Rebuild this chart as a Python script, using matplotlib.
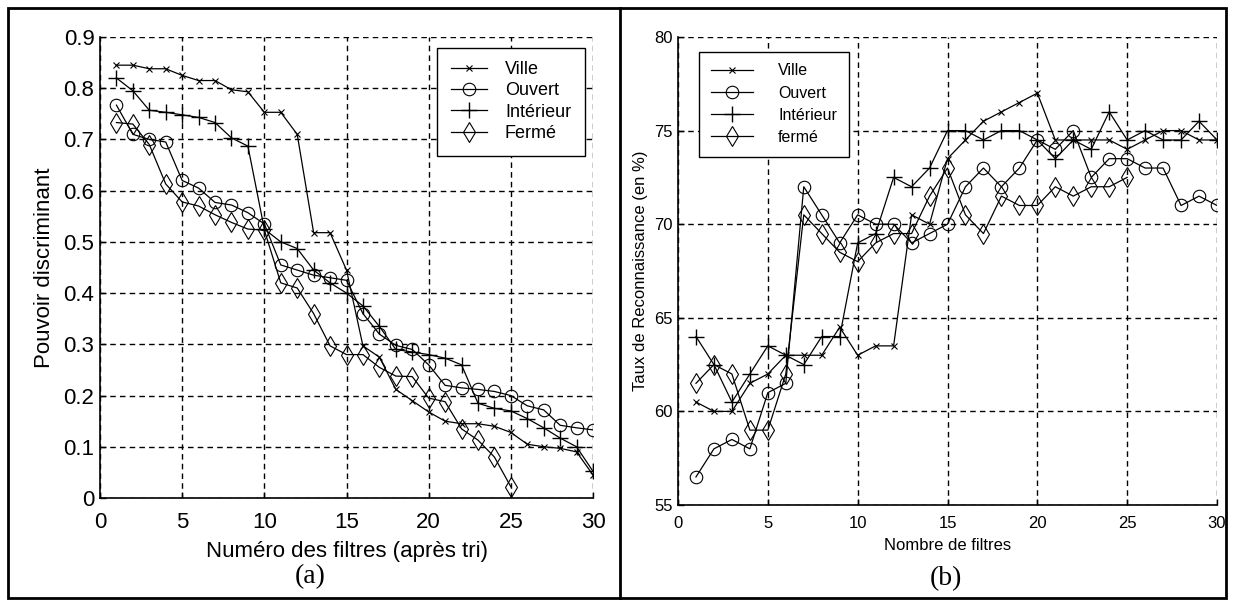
import matplotlib
matplotlib.use("Agg")
import matplotlib.pyplot as plt
from matplotlib.patches import Rectangle
from matplotlib.lines import Line2D

# ---- data: (a) discriminant power per sorted filter
x_a = list(range(1, 31))
ville_a = [0.845, 0.845, 0.838, 0.838, 0.825, 0.815, 0.815, 0.797, 0.793, 0.753,
           0.753, 0.71, 0.518, 0.518, 0.445, 0.297, 0.275, 0.212, 0.19, 0.168,
           0.15, 0.145, 0.145, 0.14, 0.128, 0.105, 0.10, 0.097, 0.09, 0.045]
ouvert_a = [0.767, 0.71, 0.70, 0.695, 0.62, 0.605, 0.577, 0.572, 0.557, 0.535,
            0.455, 0.445, 0.435, 0.43, 0.425, 0.36, 0.32, 0.298, 0.29, 0.26,
            0.22, 0.215, 0.212, 0.208, 0.20, 0.18, 0.172, 0.142, 0.137, 0.133]
interieur_a = [0.82, 0.795, 0.757, 0.753, 0.748, 0.743, 0.733, 0.703, 0.687, 0.525,
               0.50, 0.487, 0.445, 0.42, 0.40, 0.375, 0.335, 0.29, 0.285, 0.28,
               0.273, 0.26, 0.185, 0.175, 0.17, 0.155, 0.137, 0.117, 0.10, 0.052]
ferme_a = [0.733, 0.73, 0.69, 0.613, 0.578, 0.57, 0.553, 0.538, 0.525, 0.523,
           0.42, 0.41, 0.36, 0.297, 0.28, 0.28, 0.255, 0.238, 0.237, 0.195,
           0.188, 0.135, 0.113, 0.08, 0.022]
yticks_a = [0, 0.1, 0.2, 0.3, 0.4, 0.5, 0.6, 0.7, 0.8, 0.9]
ylabels_a = ["0", "0.1", "0.2", "0.3", "0.4", "0.5", "0.6", "0.7", "0.8", "0.9"]
labels_a = ["Ville", "Ouvert", "Intérieur", "Fermé"]

# ---- data: (b) recognition rate vs number of filters
x_b = list(range(1, 31))
ville_b = [60.5, 60.0, 60.0, 61.5, 62.0, 63.0, 63.0, 63.0, 64.5, 63.0,
           63.5, 63.5, 70.5, 70.0, 73.5, 74.5, 75.5, 76.0, 76.5, 77.0,
           74.5, 74.5, 74.5, 74.5, 74.0, 74.5, 75.0, 75.0, 74.5, 74.5]
ouvert_b = [56.5, 58.0, 58.5, 58.0, 61.0, 61.5, 72.0, 70.5, 69.0, 70.5,
            70.0, 70.0, 69.0, 69.5, 70.0, 72.0, 73.0, 72.0, 73.0, 74.5,
            74.0, 75.0, 72.5, 73.5, 73.5, 73.0, 73.0, 71.0, 71.5, 71.0]
interieur_b = [64.0, 62.5, 60.5, 62.0, 63.5, 63.0, 62.5, 64.0, 64.0, 69.0,
               69.5, 72.5, 72.0, 73.0, 75.0, 75.0, 74.5, 75.0, 75.0, 74.5,
               73.5, 74.5, 74.0, 76.0, 74.5, 75.0, 74.5, 74.5, 75.5, 74.5]
ferme_b = [61.5, 62.5, 62.0, 59.0, 59.0, 62.0, 70.5, 69.5, 68.5, 68.0,
           69.0, 69.5, 69.5, 71.5, 73.0, 70.5, 69.5, 71.5, 71.0, 71.0,
           72.0, 71.5, 72.0, 72.0, 72.5]
yticks_b = [55, 60, 65, 70, 75, 80]
labels_b = ["Ville", "Ouvert", "Intérieur", "fermé"]

xticks = [0, 5, 10, 15, 20, 25, 30]

plt.rcParams["font.family"] = ["Liberation Sans Narrow", "Liberation Sans", "DejaVu Sans"]

markers = [dict(marker="x", ms=4.5, mew=0.8),
           dict(marker="o", ms=9, mfc="none", mew=0.8),
           dict(marker="+", ms=11, mew=1.0),
           dict(marker="d", ms=10.5, mfc="none", mew=0.8)]


def style_axes(ax, fs, xpad):
    ax.grid(True, color="black", linestyle=(0, (4, 3)), linewidth=1.0)
    ax.set_axisbelow(True)
    for s in ("top", "right"):
        ax.spines[s].set_visible(False)
    for s in ("left", "bottom"):
        ax.spines[s].set_linewidth(1.2)
    ax.tick_params(direction="in", length=4, width=1, labelsize=fs, pad=4)
    ax.tick_params(axis="x", pad=xpad)
    ax.set_xticks(xticks)
    ax.set_xlim(0, 30)


def add_legend(ax, labels, anchor, fs, hlen, tpad, lspace, bpad):
    leg = ax.legend(labels, loc="upper left", bbox_to_anchor=anchor, fontsize=fs,
                    frameon=True, fancybox=False, edgecolor="black", framealpha=1,
                    borderaxespad=0, handlelength=hlen, handletextpad=tpad,
                    labelspacing=lspace, borderpad=bpad)
    leg.get_frame().set_linewidth(1.0)
    return leg


fig = plt.figure(figsize=(12.33, 6.05), dpi=100)

# ---------- (a)
ax1 = fig.add_axes([100 / 1233, 107 / 605, 493 / 1233, 461 / 605])
for ys, m in zip([ville_a, ouvert_a, interieur_a, ferme_a], markers):
    ax1.plot(x_a[:len(ys)], ys, color="black", lw=0.9, **m)
style_axes(ax1, 16, 10)
ax1.set_ylim(0, 0.9)
ax1.set_yticks(yticks_a)
ax1.set_yticklabels(ylabels_a)
ax1.set_xlabel("Numéro des filtres (après tri)", fontsize=16, labelpad=6)
ax1.set_ylabel("Pouvoir discriminant", fontsize=16, labelpad=6)
add_legend(ax1, labels_a, (0.684, 0.977), 13, 2.0, 1.0, 0.24, 0.75)

# ---------- (b)
ax2 = fig.add_axes([678 / 1233, 100 / 605, 539 / 1233, 468 / 605])
for ys, m in zip([ville_b, ouvert_b, interieur_b, ferme_b], markers):
    ax2.plot(x_b[:len(ys)], ys, color="black", lw=0.9, **m)
style_axes(ax2, 12, 8)
ax2.set_ylim(55, 80)
ax2.set_yticks(yticks_b)
ax2.set_xlabel("Nombre de filtres", fontsize=12, labelpad=5)
ax2.set_ylabel("Taux de Reconnaissance (en %)", fontsize=12, labelpad=4)
add_legend(ax2, labels_b, (0.039, 0.969), 11.5, 2.6, 1.6, 0.45, 0.75)

# panel captions
fig.text(310 / 1233, 1 - 577 / 605, "(a)", ha="center", va="center",
         fontsize=20, family="Liberation Serif")
fig.text(946 / 1233, 1 - 579 / 605, "(b)", ha="center", va="center",
         fontsize=20, family="Liberation Serif")

# table frame around the two panels
fig.add_artist(Rectangle((8 / 1233, 7 / 605), 1218 / 1233, 590 / 605,
                         transform=fig.transFigure, fill=False,
                         edgecolor="black", linewidth=2))
fig.add_artist(Line2D([620 / 1233, 620 / 1233], [7 / 605, 597 / 605],
                      transform=fig.transFigure, color="black", linewidth=2))

fig.savefig("out.png", dpi=100)
